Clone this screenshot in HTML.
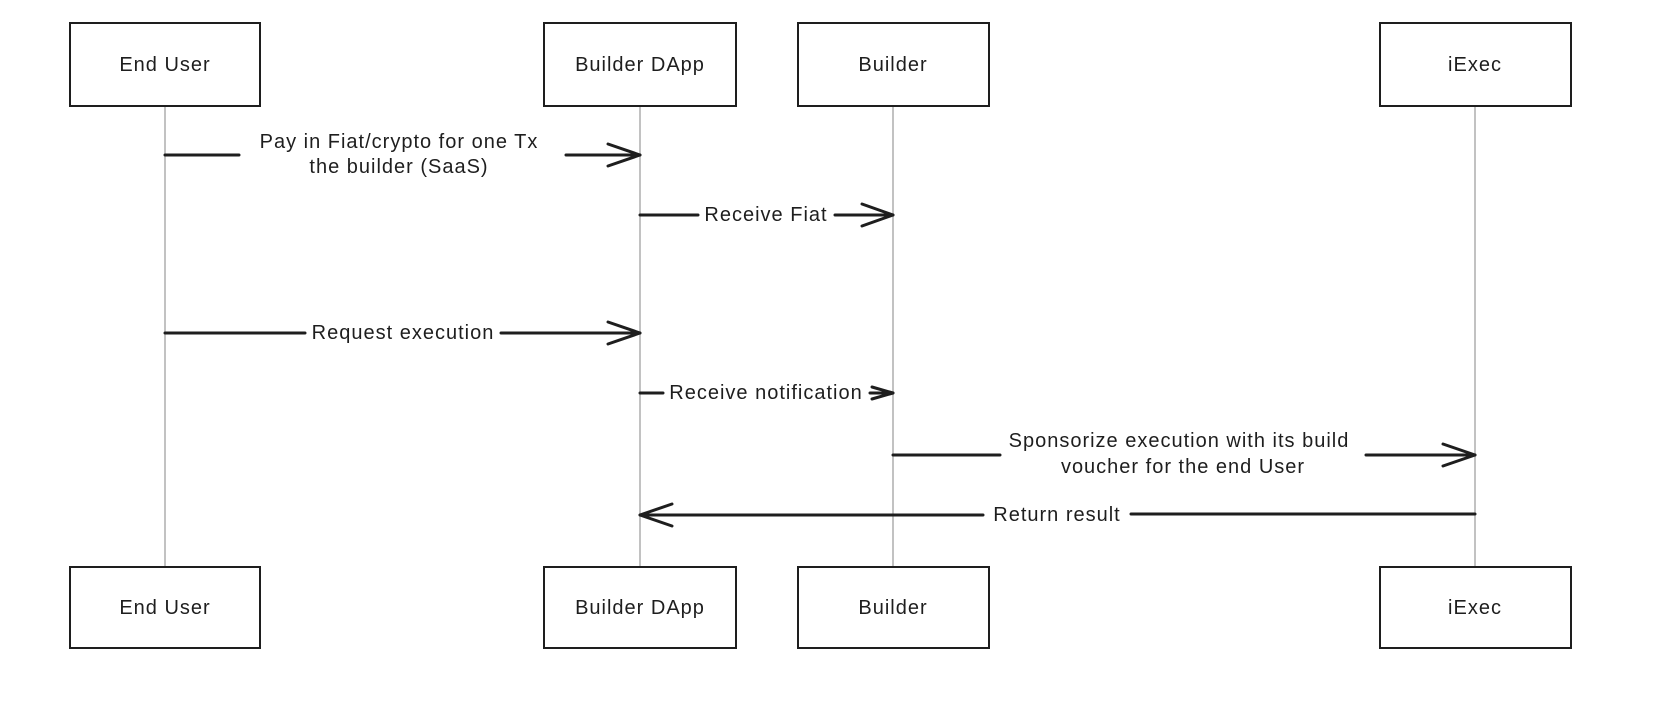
<!DOCTYPE html>
<html><head><meta charset="utf-8"><style>
html,body{margin:0;padding:0;background:#fff;}
svg text{font-family:"Liberation Sans",sans-serif;font-size:20px;letter-spacing:1px;fill:#1e1e1e;}
</style></head><body>
<svg width="1658" height="702" xmlns="http://www.w3.org/2000/svg">
<rect width="1658" height="702" fill="#fff"/>
<g stroke="#9a9a9a" stroke-width="1.2">
<line x1="165" y1="106" x2="165" y2="567"/>
<line x1="640" y1="106" x2="640" y2="567"/>
<line x1="893" y1="106" x2="893" y2="567"/>
<line x1="1475" y1="106" x2="1475" y2="567"/>
</g>
<g fill="#fff" stroke="#1e1e1e" stroke-width="2">
<rect x="70" y="23" width="190" height="83"/>
<rect x="544" y="23" width="192" height="83"/>
<rect x="798" y="23" width="191" height="83"/>
<rect x="1380" y="23" width="191" height="83"/>
<rect x="70" y="567" width="190" height="81"/>
<rect x="544" y="567" width="192" height="81"/>
<rect x="798" y="567" width="191" height="81"/>
<rect x="1380" y="567" width="191" height="81"/>
</g>
<g text-anchor="middle">
<text x="165" y="71">End User</text>
<text x="640" y="71">Builder DApp</text>
<text x="893" y="71">Builder</text>
<text x="1475" y="71">iExec</text>
<text x="165" y="614">End User</text>
<text x="640" y="614">Builder DApp</text>
<text x="893" y="614">Builder</text>
<text x="1475" y="614">iExec</text>
</g>
<g stroke="#1e1e1e" stroke-width="3" fill="none" stroke-linecap="round" stroke-linejoin="round">
<line x1="165" y1="155" x2="239" y2="155"/><line x1="566" y1="155" x2="640" y2="155"/><polyline points="608,144 640,155 608,166"/>
<line x1="640" y1="215" x2="698" y2="215"/><line x1="835" y1="215" x2="893" y2="215"/><polyline points="862,204 893,215 862,226"/>
<line x1="165" y1="333" x2="305" y2="333"/><line x1="501" y1="333" x2="640" y2="333"/><polyline points="608,322 640,333 608,344"/>
<line x1="640" y1="393" x2="663" y2="393"/><line x1="870" y1="393" x2="893" y2="393"/><polyline points="872,387 893,393 872,399"/>
<line x1="893" y1="455" x2="1000" y2="455"/><line x1="1366" y1="455" x2="1475" y2="455"/><polyline points="1443,444 1475,455 1443,466"/>
<line x1="640" y1="515" x2="983" y2="515"/><line x1="1131" y1="514" x2="1475" y2="514"/><polyline points="672,504 640,515 672,526"/>
</g>
<g text-anchor="middle">
<text x="399" y="148">Pay in Fiat/crypto for one Tx</text>
<text x="399" y="173">the builder (SaaS)</text>
<text x="766" y="221">Receive Fiat</text>
<text x="403" y="339">Request execution</text>
<text x="766" y="399">Receive notification</text>
<text x="1179" y="447">Sponsorize execution with its build</text>
<text x="1183" y="473">voucher for the end User</text>
<text x="1057" y="521">Return result</text>
</g>
</svg>
</body></html>
